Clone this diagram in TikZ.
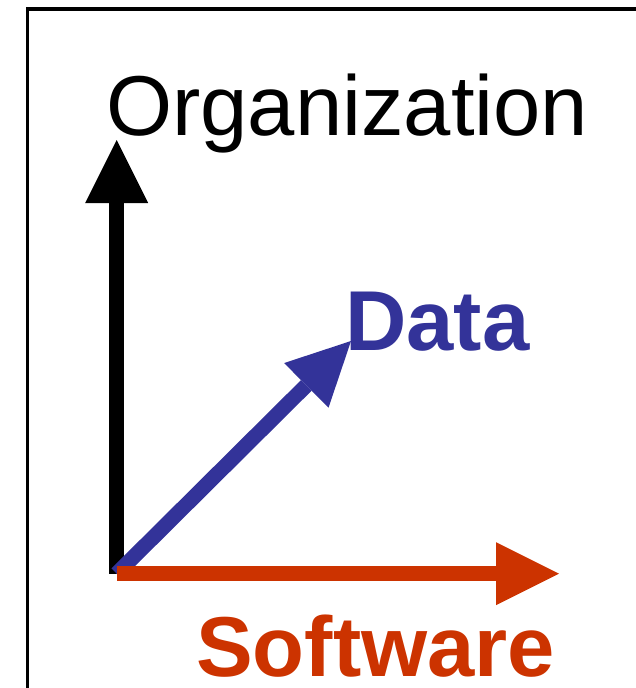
\documentclass[tikz,border=0pt]{standalone}
\usepackage{fontspec}
\setmainfont{Liberation Sans}
\usetikzlibrary{arrows.meta}
\definecolor{datablue}{HTML}{333399}
\definecolor{softred}{HTML}{CC3300}

\begin{document}
\begin{tikzpicture}[x=1pt,y=-1pt,
		axis/.style={line width=15pt,-{Triangle[length=63pt,width=63pt,line width=0pt]}},
		label/.style={inner sep=0pt,anchor=base west,font=\fontsize{85}{100}\selectfont}]
		\useasboundingbox (0,0) rectangle (636,688);
		
		% frame, runs off the page at right and bottom
		\draw[line width=3.3pt] (27.7,9) rectangle (680,720);
		
		\coordinate (origin) at (116.7,573.7);
		\coordinate (orgtip) at (116.7,140);
		\coordinate (datatip) at (351,341);
		\coordinate (softtip) at (559,573.7);
		
		\draw[axis,black] (origin) -- (orgtip);
		\draw[axis,datablue] (origin) -- (datatip);
		\draw[axis,softred] (origin) -- (softtip);
		
		\node[label] (org) at (106,135) {Organization};
		\node[label,text=datablue,font=\fontsize{85}{100}\selectfont\bfseries] (data) at (345,350.7) {Data};
		\node[label,text=softred,font=\fontsize{85}{100}\selectfont\bfseries] (soft) at (196,676) {Software};
		
	\end{tikzpicture}
\end{document}
